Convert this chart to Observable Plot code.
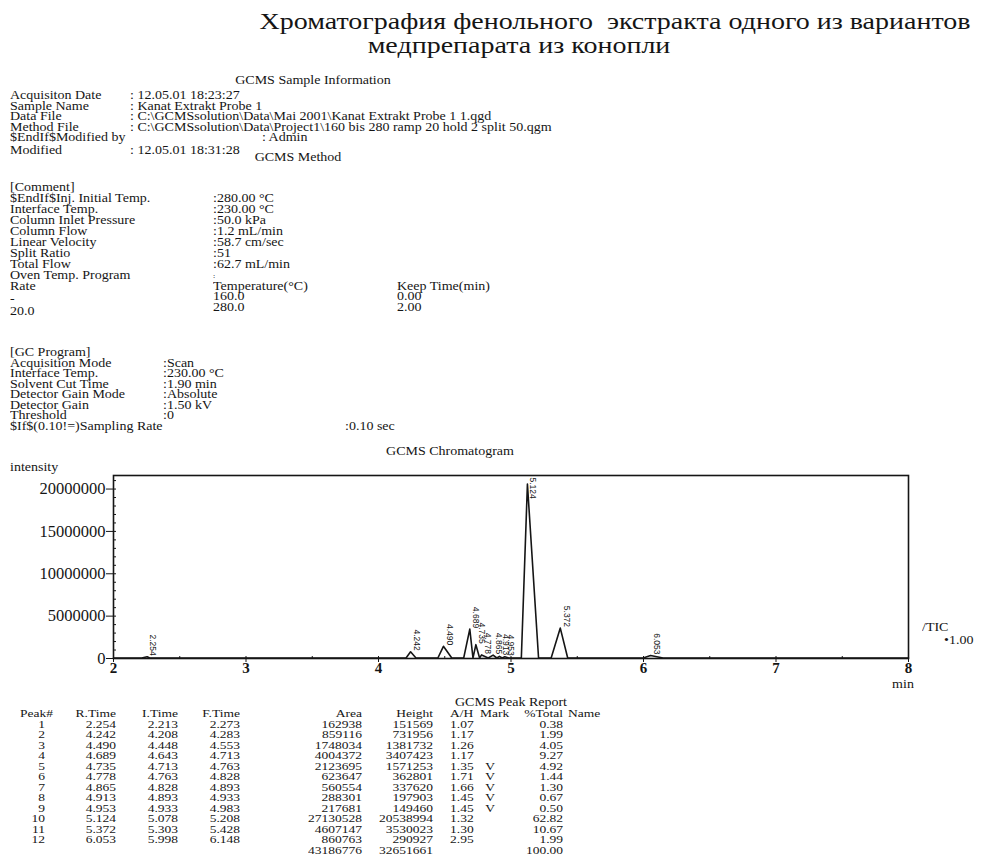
<!DOCTYPE html>
<html><head><meta charset="utf-8">
<script src="https://cdn.jsdelivr.net/npm/d3@7"></script>
<script src="https://cdn.jsdelivr.net/npm/@observablehq/plot@0.6"></script>
<style>
body{margin:0;background:#fff;}
#page{position:relative;width:982px;height:865px;overflow:hidden;font-family:"Liberation Serif","Times New Roman",serif;color:#151515;}
.t{position:absolute;white-space:pre;font-size:14px;line-height:12px;height:12px;transform:scaleY(0.82);transform-origin:50% 50%;}
#chart{position:absolute;left:0;top:440px;}
</style></head><body><div id="page"></div>
<script>
// ---------- data ----------
const titleLines = ["Хроматография фенольного  экстракта одного из вариантов", "медпрепарата из конопли"];
const sampleInfoLabels = ["Acquisiton Date", "Sample Name", "Data File", "Method File", "$EndIf$Modified by", "Modified"];
const sampleInfoValues = [": 12.05.01 18:23:27", ": Kanat Extrakt Probe 1", ": C:\\GCMSsolution\\Data\\Mai 2001\\Kanat Extrakt Probe 1 1.qgd", ": C:\\GCMSsolution\\Data\\Project1\\160 bis 280 ramp 20 hold 2 split 50.qgm", "", ": 12.05.01 18:31:28"];
const modifiedBy = ": Admin";
const methodLabels = ["[Comment]", "$EndIf$Inj. Initial Temp.", "Interface Temp.", "Column Inlet Pressure", "Column Flow", "Linear Velocity", "Split Ratio", "Total Flow", "Oven Temp. Program", "Rate", "-", "20.0"];
const methodValues = ["", ":280.00 °C", ":230.00 °C", ":50.0 kPa", ":1.2 mL/min", ":58.7 cm/sec", ":51", ":62.7 mL/min", ":"];
const ovenTemps = ["Temperature(°C)", "160.0", "280.0"];
const ovenKeep = ["Keep Time(min)", "0.00", "2.00"];
const gcLabels = ["[GC Program]", "Acquisition Mode", "Interface Temp.", "Solvent Cut Time", "Detector Gain Mode", "Detector Gain", "Threshold", "$If$(0.10!=)Sampling Rate"];
const gcValues = ["", ":Scan", ":230.00 °C", ":1.90 min", ":Absolute", ":1.50 kV", ":0"];
const samplingRate = ":0.10 sec";

// peak report
const peakNo   = [1, 2, 3, 4, 5, 6, 7, 8, 9, 10, 11, 12];
const rTime    = [2.254, 4.242, 4.490, 4.689, 4.735, 4.778, 4.865, 4.913, 4.953, 5.124, 5.372, 6.053];
const iTime    = [2.213, 4.208, 4.448, 4.643, 4.713, 4.763, 4.828, 4.893, 4.933, 5.078, 5.303, 5.998];
const fTime    = [2.273, 4.283, 4.553, 4.713, 4.763, 4.828, 4.893, 4.933, 4.983, 5.208, 5.428, 6.148];
const area     = [162938, 859116, 1748034, 4004372, 2123695, 623647, 560554, 288301, 217681, 27130528, 4607147, 860763];
const heights  = [151569, 731956, 1381732, 3407423, 1571253, 362801, 337620, 197903, 149460, 20538994, 3530023, 290927];
const ahRatio  = ["1.07", "1.17", "1.26", "1.17", "1.35", "1.71", "1.66", "1.45", "1.45", "1.32", "1.30", "2.95"];
const marks    = ["", "", "", "", "V", "V", "V", "V", "V", "", "", ""];
const pctTotal = ["0.38", "1.99", "4.05", "9.27", "4.92", "1.44", "1.30", "0.67", "0.50", "62.82", "10.67", "1.99"];
const totalArea = 43186776, totalHeight = 32651661, totalPct = "100.00";

// chromatogram axes
const xTicks = [2, 3, 4, 5, 6, 7, 8];
const yTicks = [0, 5000000, 10000000, 15000000, 20000000];
const baselineLevel = 60000;

// ---------- layout helpers ----------
const page = document.getElementById("page");
function put(text, x, y, opts = {}) {
  const d = document.createElement("div");
  d.className = "t";
  d.textContent = text;
  const lh = opts.lh || 12;
  d.style.lineHeight = lh + "px";
  d.style.height = lh + "px";
  if (opts.fs) d.style.fontSize = opts.fs + "px";
  if (opts.sy) d.style.transform = "scaleY(" + opts.sy + ")";
  d.style.top = (y - lh / 2) + "px";
  if (opts.align === "right") { d.style.right = (982 - x) + "px"; d.style.textAlign = "right"; }
  else if (opts.align === "center") { d.style.left = (x - 400) + "px"; d.style.width = "800px"; d.style.textAlign = "center"; }
  else d.style.left = x + "px";
  page.appendChild(d);
  return d;
}

// title
put(titleLines[0], 615, 22, {align: "center", fs: 28, lh: 26, sy: 0.8});
put(titleLines[1], 519, 46, {align: "center", fs: 28, lh: 26, sy: 0.8});

// sample info
put("GCMS Sample Information", 313, 81, {align: "center"});
const infoY = [96, 106.5, 117, 127.5, 138, 151];
sampleInfoLabels.forEach((s, i) => put(s, 10, infoY[i]));
sampleInfoValues.forEach((s, i) => s && put(s, 130, infoY[i]));
put(modifiedBy, 262, infoY[4]);

// method
put("GCMS Method", 298, 158, {align: "center"});
const mY0 = 188, mStep = 11;
methodLabels.forEach((s, i) => put(s, 10, mY0 + i * mStep + (i >= 10 ? (i - 9) * 1.5 : 0)));
methodValues.forEach((s, i) => {
  if (!s) return;
  if (i === 8) put(s, 213, 275.5, {lh: 4, fs: 8});
  else put(s, 213, mY0 + i * mStep);
});
ovenTemps.forEach((s, i) => put(s, 213, 286.5 + i * 10.5));
ovenKeep.forEach((s, i) => put(s, 397, 286.5 + i * 10.5));

// GC program
const gY0 = 353, gStep = 10.5;
gcLabels.forEach((s, i) => put(s, 10, gY0 + i * gStep));
gcValues.forEach((s, i) => s && put(s, 163, gY0 + i * gStep));
put(samplingRate, 345, gY0 + 7 * gStep);

// chromatogram header
put("GCMS Chromatogram", 450, 452, {align: "center"});
put("intensity", 10, 468);
put("min", 903, 685, {align: "center"});
put("/TIC", 922, 628);
put("•1.00", 944, 641);

// ---------- chromatogram ----------
const peaks = rTime.map((r, i) => ({r, i0: iTime[i], f: fTime[i], h: heights[i]}));
const trace = [{t: 2, v: baselineLevel}];
peaks.forEach(p => {
  trace.push({t: p.i0, v: baselineLevel}, {t: p.r, v: p.h + baselineLevel}, {t: p.f, v: baselineLevel});
});
trace.push({t: 8, v: baselineLevel});

const minorY = d3.range(0, 21000001, 1000000);
const minorX = d3.range(2, 8.01, 0.5);

const chart = Plot.plot({
  width: 982, height: 250,
  marginLeft: 113, marginRight: 74, marginTop: 35, marginBottom: 32,
  style: {fontFamily: '"Liberation Serif", serif', fontSize: "15px", color: "#151515", background: "transparent"},
  x: {domain: [2, 8], label: null},
  y: {domain: [0, 21600000], label: null},
  marks: [
    Plot.axisY(minorY, {tickSize: -3, text: null, label: null}),
    Plot.axisX(minorX, {tickSize: -2, text: null, label: null}),
    Plot.axisY(yTicks, {tickSize: 7, tickPadding: 1, tickFormat: d => String(d), label: null, fontSize: 16.5}),
    Plot.axisX(xTicks, {tickSize: 4, tickPadding: 0, tickFormat: d => String(d), label: null, fontSize: 15, fontWeight: "bold"}),
    Plot.line(trace, {x: "t", y: "v", stroke: "#151515", strokeWidth: 1.6}),
    Plot.frame({stroke: "#151515", strokeWidth: 1.6}),
    Plot.text(peaks.filter(p => p.h < 15000000), {x: "r", y: d => d.h + baselineLevel, text: d => d.r.toFixed(3), rotate: 90, textAnchor: "end", dx: 6, dy: -1, fontSize: 8.5, fontFamily: '"Liberation Sans", sans-serif'}),
    Plot.text(peaks.filter(p => p.h >= 15000000), {x: "r", frameAnchor: "top", text: d => d.r.toFixed(3), rotate: 90, textAnchor: "start", dx: 9, dy: 2, fontSize: 8.5, fontFamily: '"Liberation Sans", sans-serif'})
  ]
});
chart.id = "chart";
page.appendChild(chart);

// ---------- peak report ----------
const rowY0 = 714, rowStep = 10.5, tfs = 13.5;
put("GCMS Peak Report", 511, 703, {align: "center", fs: 14});
function col(header, values, x, align, extra) {
  const lines = [header].concat(values.map(String));
  if (extra !== undefined) lines.push(String(extra));
  lines.forEach((s, i) => s !== "" && put(s, x, rowY0 + i * rowStep, {align, fs: tfs}));
}
col("Peak#", [], 20);
col("", peakNo, 45, "right");
col("R.Time", rTime.map(v => v.toFixed(3)), 116, "right");
col("I.Time", iTime.map(v => v.toFixed(3)), 178, "right");
col("F.Time", fTime.map(v => v.toFixed(3)), 240, "right");
col("Area", area, 362, "right", totalArea);
col("Height", heights, 433, "right", totalHeight);
col("A/H", ahRatio, 450);
col("Mark", [], 480);
col("", marks, 490, "center");
col("%Total", pctTotal, 563, "right", totalPct);
col("Name", [], 568);
</script></body></html>
